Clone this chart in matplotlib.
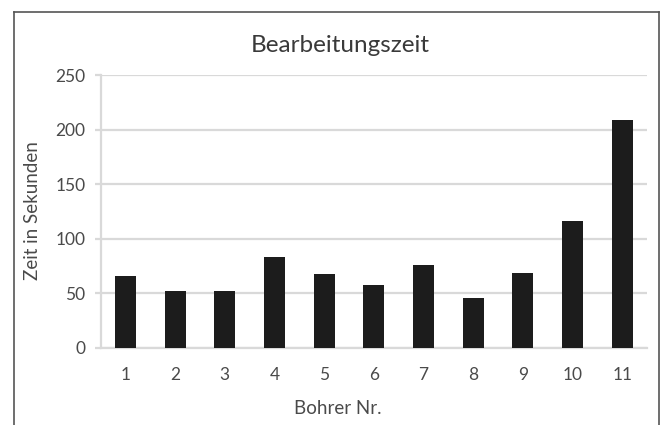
import matplotlib
matplotlib.use("Agg")
import matplotlib.pyplot as plt
from matplotlib.lines import Line2D

plt.rcParams['font.family'] = ['Lato', 'DejaVu Sans']

# Daten
bohrer = ['1', '2', '3', '4', '5', '6', '7', '8', '9', '10', '11']
zeit = [66, 52, 52, 83, 68, 58, 76, 46, 69, 116, 209]
y_ticks = [0, 50, 100, 150, 200, 250]

txt = '#4a4a4a'
grid = '#d9d9d9'

fig = plt.figure(figsize=(6.6, 4.25), dpi=100)
ax = fig.add_axes([0.1526, 0.1812, 0.8277, 0.6423])

x = range(len(bohrer))
ax.bar(x, zeit, width=0.42, color='#1c1c1c', zorder=3)

ax.set_xlim(-0.5, len(bohrer) - 0.5)
ax.set_ylim(0, 250)
ax.set_yticks(y_ticks)
ax.set_xticks(list(x))
ax.set_xticklabels(bohrer)

ax.yaxis.grid(True, color=grid, linewidth=1.6, zorder=0)
for s in ['top', 'right']:
    ax.spines[s].set_visible(False)
for s in ['left', 'bottom']:
    ax.spines[s].set_color(grid)
    ax.spines[s].set_linewidth(1.6)

ax.tick_params(axis='y', colors=grid, length=4, width=1.6, labelcolor=txt, labelsize=12.5, pad=7)
ax.tick_params(axis='x', length=0, labelcolor=txt, labelsize=12.5, pad=14)

ax.set_ylabel('')
fig.text(33 / 660, 1 - 211 / 425, 'Zeit in Sekunden', rotation=90, ha='center', va='center',
         fontsize=13.5, color=txt)

fig.text(340 / 660, 1 - 45 / 425, 'Bearbeitungszeit', ha='center', va='center', fontsize=17.5, color='#3a3a3a')
fig.text(338 / 660, 1 - 409 / 425, 'Bohrer Nr.', ha='center', va='center', fontsize=13.5, color=txt)

# Rahmen um das Diagramm (unten abgeschnitten)
W, H = 660.0, 425.0
bc = '#555555'
fig.add_artist(Line2D([14 / W, 14 / W], [0, 1 - 12 / H], transform=fig.transFigure, color=bc, linewidth=1.2))
fig.add_artist(Line2D([14 / W, 659 / W], [1 - 12 / H, 1 - 12 / H], transform=fig.transFigure, color=bc, linewidth=1.2))
fig.add_artist(Line2D([659 / W, 659 / W], [0, 1 - 12 / H], transform=fig.transFigure, color=bc, linewidth=1.2))

fig.savefig('out.png', dpi=100, facecolor='white')
